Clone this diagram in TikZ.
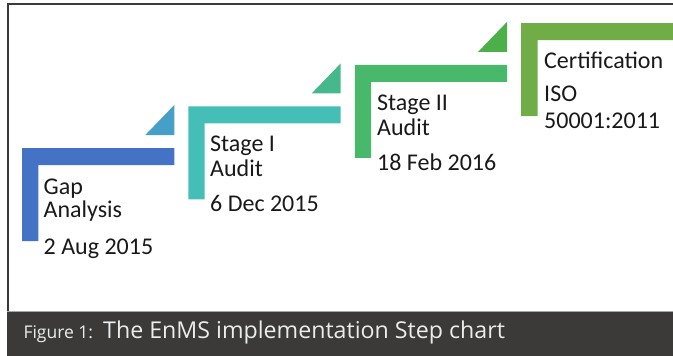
\documentclass[tikz,border=0pt]{standalone}
\usepackage{fontspec}
\setmainfont{Carlito}
\newfontfamily\capfont{Open Sans}
\definecolor{cBlue}{HTML}{4472C4}
\definecolor{cTriA}{HTML}{469FC6}
\definecolor{cTeal}{HTML}{45BEB8}
\definecolor{cTriB}{HTML}{46B98C}
\definecolor{cGreen}{HTML}{48B86A}
\definecolor{cTriC}{HTML}{4CB04A}
\definecolor{cLime}{HTML}{70AD47}
\definecolor{cFrame}{HTML}{3A3A3A}
\definecolor{cBar}{HTML}{3B3A39}
\definecolor{cCap}{HTML}{ECECEC}
\begin{document}
\begin{tikzpicture}[x=1pt,y=-1pt,
  lbl/.style={anchor=base west,inner sep=0pt,font=\fontsize{24}{25}\selectfont,text=black!90},
  capsmall/.style={anchor=base west,inner sep=0pt,font=\capfont\fontsize{17.5}{20}\selectfont,text=cCap},
  capbig/.style={anchor=base west,inner sep=0pt,font=\capfont\fontsize{23.2}{24}\selectfont,text=cCap}]
\useasboundingbox (0,0) rectangle (673,356);
\begin{scope}
\clip (0,0) rectangle (673,356);
% frame
\draw[cFrame,line width=2pt] (7.5,311) -- (7.5,3.5) -- (680,3.5);
% caption bar
\fill[cBar] (6.5,311) rectangle (680,360);
\draw[gray!70,line width=1pt] (6.5,311.5) -- (680,311.5);
% steps: L shapes
\foreach \i/\col in {0/cBlue,1/cTeal,2/cGreen,3/cLime}{
  \pgfmathsetmacro{\dx}{166.4*\i}
  \pgfmathsetmacro{\dy}{-41.6*\i}
  \fill[\col,shift={(\dx,\dy)}] (22,148) -- (174.3,148) -- (174.3,165) -- (38.3,165) -- (38.3,241) -- (22,241) -- cycle;
}
% triangles
\foreach \i/\col in {0/cTriA,1/cTriB,2/cTriC}{
  \pgfmathsetmacro{\dx}{166.4*\i}
  \pgfmathsetmacro{\dy}{-41.6*\i}
  \fill[\col,shift={(\dx,\dy)}] (145.3,135) -- (174.3,135) -- (174.3,105) -- cycle;
}
\end{scope}
% labels
\node[lbl] (a1) at (43.5,194) {Gap};
\node[lbl] (a2) at (43.5,217.5) {Analysis};
\node[lbl] (a3) at (43.5,254) {2 Aug 2015};
\node[lbl] (b1) at (210,151) {Stage I};
\node[lbl] (b2) at (210,176) {Audit};
\node[lbl] (b3) at (210,211) {6 Dec 2015};
\node[lbl] (c1) at (377,110) {Stage II};
\node[lbl] (c2) at (377,135) {Audit};
\node[lbl] (c3) at (377,170) {18 Feb 2016};
\node[lbl] (d1) at (544,68.3) {Certification};
\node[lbl] (d2) at (544,101.7) {ISO};
\node[lbl] (d3) at (544,128.3) {50001:2011};
% caption
\node[capsmall] (f1) at (23.3,338.3) {Figure 1:};
\node[capbig] (f2) at (103,338.3) {The EnMS implementation Step chart};
\end{tikzpicture}
\end{document}
